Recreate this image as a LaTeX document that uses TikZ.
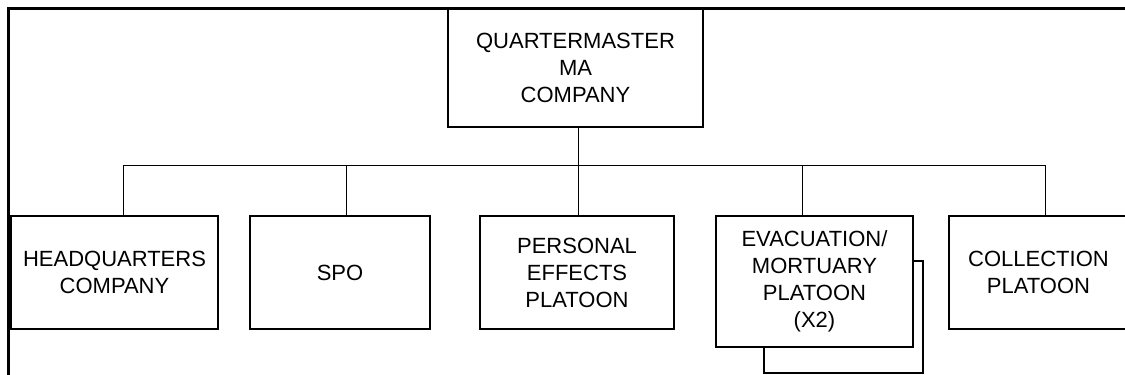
\documentclass[tikz,border=0pt]{standalone}
\usepackage{fontspec}
\setmainfont{Liberation Sans}
\begin{document}
\begin{tikzpicture}[x=1pt,y=-1pt,
  unitbox/.style={draw=black,line width=1.3pt,fill=white,inner sep=0pt,align=center,
    font=\fontsize{22}{27}\selectfont},
  link/.style={draw=black,line width=1pt},
  frame/.style={draw=black,line width=2.8pt}]
\useasboundingbox (0,0) rectangle (1125,375);
% frame lines
\coordinate (fa) at (7,8.5);
\coordinate (fb) at (1130,8.5);
\coordinate (fc) at (8.5,7);
\coordinate (fd) at (8.5,380);
\draw[frame] (fa) -- (fb);
\draw[frame] (fc) -- (fd);
% boxes
\node[unitbox,minimum width=255pt,minimum height=118pt] (top) at (575.5,68) {QUARTERMASTER\\MA\\COMPANY};
\node[unitbox,minimum width=207pt,minimum height=113pt] (hq) at (114.5,272.5) {HEADQUARTERS\\COMPANY};
\node[unitbox,minimum width=180pt,minimum height=113pt] (spo) at (340,272.5) {SPO};
\node[unitbox,minimum width=194pt,minimum height=113pt] (pe) at (577,272.5) {PERSONAL\\EFFECTS\\PLATOON};
\node[unitbox,minimum width=159pt,minimum height=112pt] (shadow) at (843.5,317) {};
\node[unitbox,minimum width=197pt,minimum height=131pt] (evac) at (814.5,281.5) {EVACUATION/\\MORTUARY\\PLATOON\\(X2)};
\node[unitbox,minimum width=179pt,minimum height=113pt] (coll) at (1038.5,272.5) {COLLECTION\\PLATOON};
% bus
\coordinate (bus) at (0,165);
\coordinate (tdrop) at ([xshift=2.5pt]top.south);
\coordinate (hqdrop) at ([xshift=8.5pt]hq.north);
\coordinate (spodrop) at ([xshift=6pt]spo.north);
\coordinate (pedrop) at ([xshift=1pt]pe.north);
\coordinate (evdrop) at ([xshift=-12.5pt]evac.north);
\coordinate (codrop) at ([xshift=6.5pt]coll.north);
\draw[link] (tdrop) -- (tdrop |- bus);
\draw[link] (hqdrop) -- (hqdrop |- bus) -- (codrop |- bus) -- (codrop);
\draw[link] (spodrop) -- (spodrop |- bus);
\draw[link] (pedrop) -- (pedrop |- bus);
\draw[link] (evdrop) -- (evdrop |- bus);
\end{tikzpicture}
\end{document}
